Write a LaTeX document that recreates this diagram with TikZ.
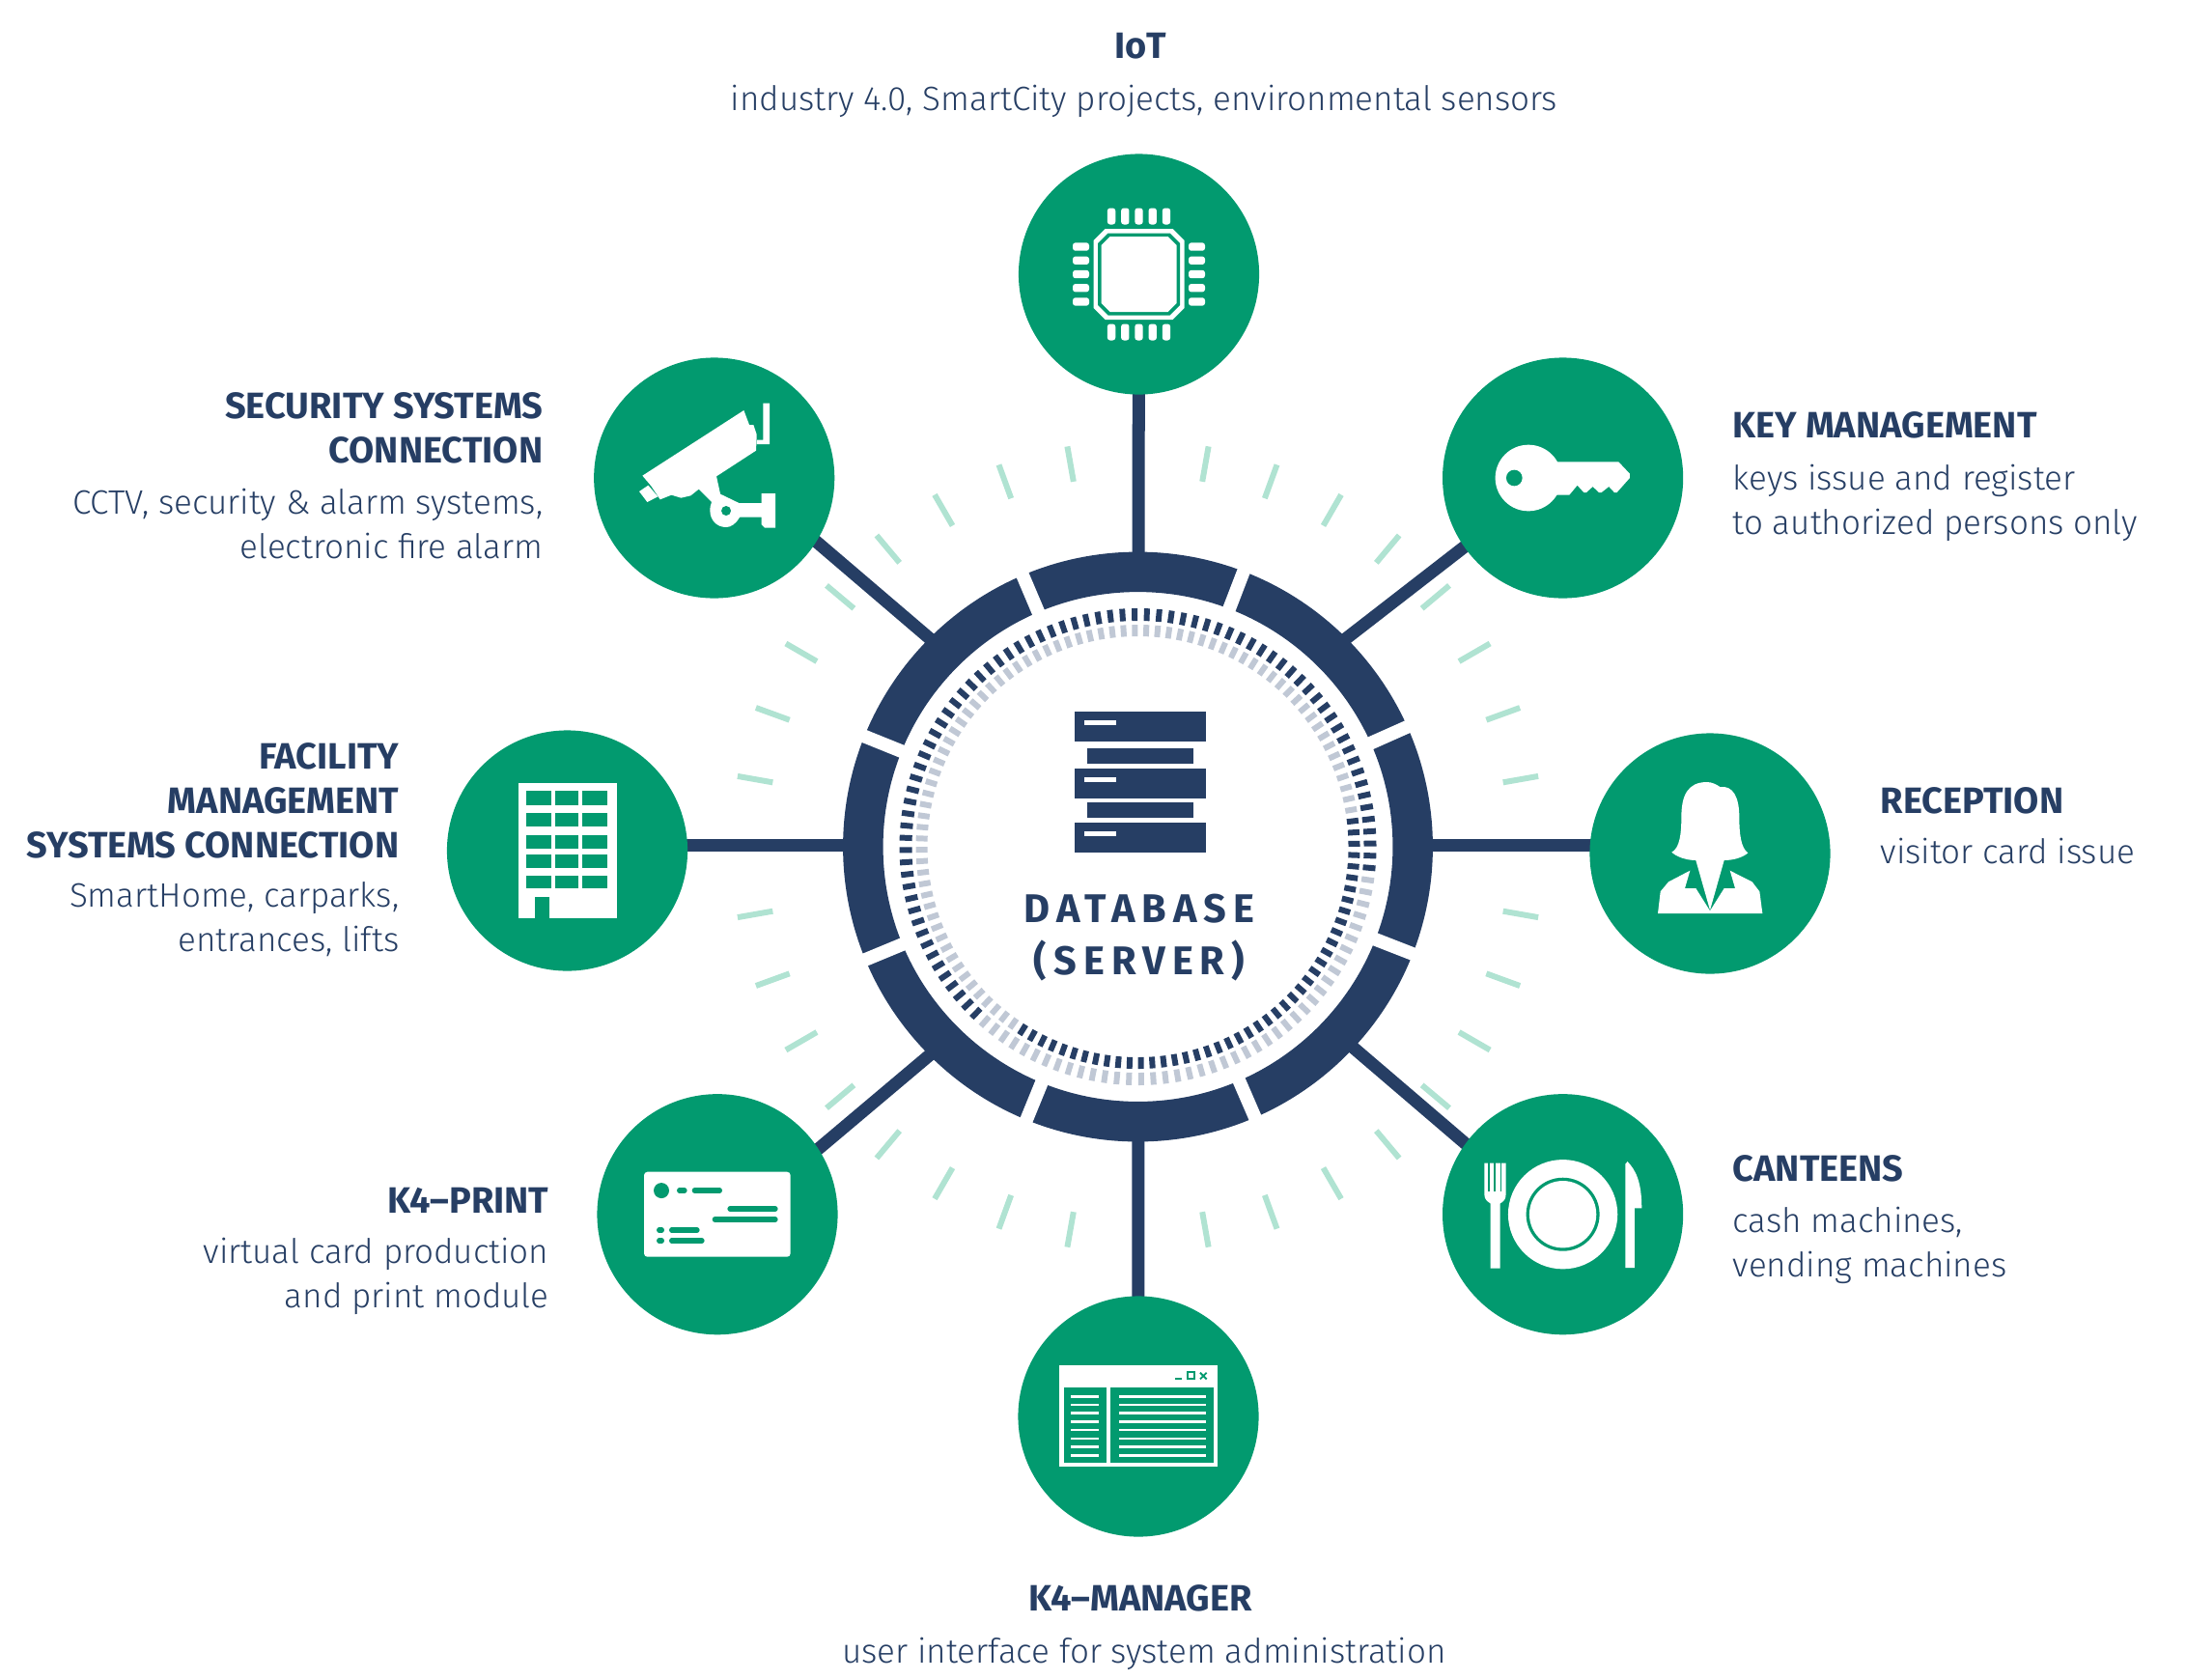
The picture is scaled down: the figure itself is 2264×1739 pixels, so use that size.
\documentclass[tikz,border=0pt]{standalone}
\usepackage{fontspec}
\setmainfont{Fira Sans Light}[BoldFont={Fira Sans Bold}]
\usetikzlibrary{positioning,backgrounds}

\definecolor{leaf}{HTML}{029A6F}
\definecolor{navy}{HTML}{263E64}
\definecolor{mist}{HTML}{C0C8D5}
\definecolor{mint}{HTML}{B0E3D2}

\tikzset{
    round/.style={circle,fill=leaf,minimum size=2.49cm,inner sep=0},
    link/.style={draw=navy,line width=3.7pt,shorten <=-2pt,shorten >=-2pt},
    head/.style={text=navy,inner sep=0,align=#1,font=\fontsize{10.8}{13.09}\selectfont\bfseries},
    body/.style={text=navy,inner sep=0,align=#1,font=\fontsize{9.95}{13.09}\selectfont},
    title/.style={text=navy,inner sep=0,anchor=base,font=\fontsize{11.8}{14}\selectfont\bfseries\addfontfeature{LetterSpace=17}},
    glyph/.style={fill=white},
    hole/.style={fill=leaf},
    pill/.style={draw=leaf,line width=1.5pt,line cap=round},
    icon/.style n args={3}{shift={(#1)},scale=1/3,shift={(-#2,-#3)}},
}

\begin{document}
\begin{tikzpicture}[x=0.01cm,y=-0.01cm]
    \useasboundingbox (0,0) rectangle (2264,1739);

    \foreach \a in {10,20,...,80}{
        \foreach \q in {0,90,180,270}{
            \draw[mint,line width=1.7pt] (1178.5,877)++(-\a-\q:384) -- ++(-\a-\q:37);
        }
    }

    % ring
    \node[circle,draw=navy,line width=11.8pt,minimum size=5.69cm,inner sep=0] (db) at (1178.5,877) {};
    \foreach \a in {113,69,24,158,202.5,338.7,293.4,247.8}{
        \draw[white,line width=3.9pt] (db)++(-\a:255) -- ++(-\a:60);
    }

    % dashes
    \foreach \k in {0,...,119}{
        \pgfmathsetmacro{\a}{0.8+3*\k}
        \pgfmathtruncatemacro{\out}{ifthenelse(\a>226.5 && \a<352,0,1)}
        \pgfmathtruncatemacro{\inn}{ifthenelse(\a<8 || \a>236,1,0)}
        \ifnum\out=0\relax\def\cola{mist}\else\def\cola{navy}\fi
        \ifnum\inn=0\relax\def\colb{mist}\else\def\colb{navy}\fi
        \draw[\cola,line width=1.7pt] (db)++(-\a:234) -- ++(-\a:13);
        \draw[\colb,line width=1.7pt] (db)++(-\a:218) -- ++(-\a:12);
    }

    % server
    \foreach \y in {737,795.5,851.5}{
        \fill[navy] (1112.7,\y) rectangle (1249.3,\y+31);
        \fill[white] (1123,\y+9) rectangle (1156,\y+14);
    }
    \fill[navy] (1126.3,775) rectangle (1235.7,791);
    \fill[navy] (1126.3,830.5) rectangle (1235.7,846.5);

    \node[title] (dbname) at (1180,955.8) {DATABASE};
    \node[title] (dbkind) at (1180,1009.7) {(SERVER)};

    % circles
    \node[round] (iot) at (1179.5,284) {};
    \node[round] (key) at (1618.6,495) {};
    \node[round] (rec) at (1771,884) {};
    \node[round] (can) at (1618.6,1257.7) {};
    \node[round] (man) at (1179,1467) {};
    \node[round] (pri) at (743,1257.7) {};
    \node[round] (fac) at (587.5,881) {};
    \node[round] (sec) at (739.7,495) {};

    % links
    \coordinate (midline) at (1179,875);
    \begin{scope}[on background layer]
        \draw[link] (iot) -- (db);
        \draw[link] (man) -- (db);
        \draw[link] (key.215) -- (db.45);
        \draw[link] (sec.-32.4) -- (db.135);
        \draw[link] (pri.33.4) -- (db.225);
        \draw[link] (can.144) -- (db.317);
        \draw[link] (db.east |- midline) -- (rec.west |- midline);
        \draw[link] (db.west |- midline) -- (fac.east |- midline);
    \end{scope}

    % chip
    \begin{scope}[shift={(iot)}]
        \foreach \r in {0,90,180,270}{
            \begin{scope}[rotate=\r]
                \foreach \i in {-2,...,2}{
                    \fill[glyph,rounded corners=0.8pt] (\i*14.23-4.2,-68.5) rectangle (\i*14.23+4.2,-51.5);
                }
            \end{scope}
        }
        \foreach \h/\c/\s in {47/12/glyph,42.5/10.5/hole,39/9/glyph}{
            \fill[\s] (-\h+\c,-\h) -- (\h-\c,-\h) -- (\h,-\h+\c) -- (\h,\h-\c) -- (\h-\c,\h) -- (-\h+\c,\h) -- (-\h,\h-\c) -- (-\h,-\h+\c) -- cycle;
        }
    \end{scope}

    % camera
    \begin{scope}[icon={sec}{418}{405}]
        \fill[glyph] (195,398) -- (510,195) -- (527,240) -- (540,240) -- (550,270) -- (548,320) -- (425,400) -- (437,455) -- (495,483) -- (565,483) -- (565,453) -- (608,453) -- (608,560) -- (575,560) -- (565,550) -- (565,527) -- (497,527) .. controls (485,548) and (470,558) .. (455,558) .. controls (425,558) and (405,535) .. (405,507) .. controls (405,495) and (407,487) .. (410,480) -- (370,440) -- (345,460) -- (315,467) -- (285,458) -- (250,472) -- (222,430) -- cycle;
        \fill[glyph] (185,447) -- (213,428) -- (243,463) -- (210,480) -- cycle;
        \fill[hole] (455,507) circle [radius=15];
        \fill[glyph] (570,173) -- (590,173) -- (590,300) -- (550,300) -- (550,287) -- (570,287) -- cycle;
    \end{scope}

    % key
    \begin{scope}[icon={key}{385}{405}]
        \fill[glyph] (278,405) circle [radius=103];
        \fill[glyph] (345,355) -- (558,355) -- (593,392) -- (593,405) -- (553,450) -- (545,450) -- (528,432) -- (505,450) -- (497,450) -- (478,432) -- (458,450) -- (450,450) -- (430,428) -- (405,458) -- (345,458) -- cycle;
        \fill[hole] (234,405) circle [radius=25];
    \end{scope}

    % reception
    \begin{scope}[icon={rec}{394}{402}]
        \fill[glyph] (275,398) .. controls (300,385) and (305,340) .. (305,290) .. controls (305,220) and (325,180) .. (385,180) .. controls (400,180) and (415,188) .. (425,195) .. controls (465,190) and (485,225) .. (485,290) .. controls (485,340) and (490,385) .. (512,400) .. controls (495,415) and (465,423) .. (438,423) -- (394,578) -- (350,423) .. controls (320,423) and (290,412) .. (275,398) -- cycle;
        \fill[glyph] (232,588) -- (240,520) -- (265,490) -- (332,455) -- (316,510) -- (350,510) -- (394,580) -- (438,510) -- (472,510) -- (456,455) -- (525,490) -- (548,520) -- (557,588) -- cycle;
    \end{scope}

    % canteen
    \begin{scope}[icon={can}{385}{384}]
        \fill[glyph] (385,384) circle [radius=170];
        \fill[hole] (385,384) circle [radius=114];
        \fill[glyph] (385,384) circle [radius=104];
        \fill[glyph] (141,228) -- (141,322) .. controls (141,338) and (152,345) .. (160,350) -- (160,552) -- (190,552) -- (190,350) .. controls (200,345) and (208,338) .. (208,322) -- (208,225) -- (141,225) -- cycle;
        \foreach \x in {153.5,171.5,190}{
            \fill[hole] (\x,222) rectangle (\x+5.5,312);
        }
        \fill[glyph] (579,228) -- (586,220) .. controls (615,250) and (630,290) .. (630,365) -- (608,365) -- (608,550) -- (579,550) -- cycle;
    \end{scope}

    % manager
    \begin{scope}[icon={man}{418}{382}]
        \fill[glyph] (173,223) rectangle (663,539);
        \fill[hole] (186,292) rectangle (320,527);
        \fill[hole] (332,292) rectangle (651,527);
        \foreach \y in {320,346,372,398,424,451,477,503}{
            \fill[glyph] (208,\y-4) rectangle (295,\y+4);
            \fill[glyph] (357,\y-4) rectangle (627,\y+4);
        }
        \fill[hole] (532,261) rectangle (553,267);
        \draw[leaf,line width=0.55pt] (570,245) rectangle (592,266);
        \draw[leaf,line width=0.55pt] (610,246) -- (630,266) (630,246) -- (610,266);
    \end{scope}

    % card
    \begin{scope}[icon={pri}{400}{384}]
        \fill[glyph,rounded corners=1pt] (172,252) rectangle (627,516);
        \fill[hole] (226,310) circle [radius=24];
        \draw[pill] (282,310) -- (298,310);
        \draw[pill] (329,310) -- (407,310);
        \draw[pill] (439,367) -- (580,367);
        \draw[pill] (392,400) -- (580,400);
        \draw[pill] (219,433) -- (227,433);
        \draw[pill] (258,433) -- (337,433);
        \draw[pill] (219,466) -- (227,466);
        \draw[pill] (258,466) -- (352,466);
    \end{scope}

    % building
    \begin{scope}[icon={fac}{412}{393}]
        \fill[glyph] (260,184) rectangle (566,603);
        \fill[hole] (310,537) rectangle (356,603);
        \foreach \xa/\xb in {285/362,375/446,458/535}{
            \foreach \ya/\yb in {208/252,276/319,344/387,405/448,472/510}{
                \fill[hole] (\xa,\ya) rectangle (\xb,\yb);
            }
        }
    \end{scope}

    % labels
    \node[head=center,anchor=base] (iothead) at (1181,60) {IoT};
    \node[body=center,anchor=base] (iotbody) at (1185,114) {industry 4.0, SmartCity projects, environmental sensors};
    \node[head=center,anchor=base] (manhead) at (1181,1668) {K4--MANAGER};
    \node[body=center,anchor=base] (manbody) at (1185,1722) {user interface for system administration};

    \node[head=left,anchor=north west] (keyhead) at (1794,426) {KEY MANAGEMENT};
    \node[body=left,anchor=north west] (keybody) at (1794,480) {keys issue and register\\to authorized persons only};
    \node[head=left,anchor=north west] (rechead) at (1947,815) {RECEPTION};
    \node[body=left,anchor=north west] (recbody) at (1947,867) {visitor card issue};
    \node[head=left,anchor=north west] (canhead) at (1794,1196) {CANTEENS};
    \node[body=left,anchor=north west] (canbody) at (1794,1249) {cash machines,\\vending machines};

    \node[head=right,anchor=north east] (sechead) at (563,406) {SECURITY SYSTEMS\\CONNECTION};
    \node[body=right,anchor=north east] (secbody) at (563,505) {CCTV, security \& alarm systems,\\electronic fire alarm};
    \node[head=right,anchor=north east] (fachead) at (414,769) {FACILITY\\MANAGEMENT\\SYSTEMS CONNECTION};
    \node[body=right,anchor=north east] (facbody) at (414,913) {SmartHome, carparks,\\entrances, lifts};
    \node[head=right,anchor=north east] (prihead) at (569,1229.5) {K4--PRINT};
    \node[body=right,anchor=north east] (pribody) at (569,1281.5) {virtual card production\\and print module};
\end{tikzpicture}
\end{document}
